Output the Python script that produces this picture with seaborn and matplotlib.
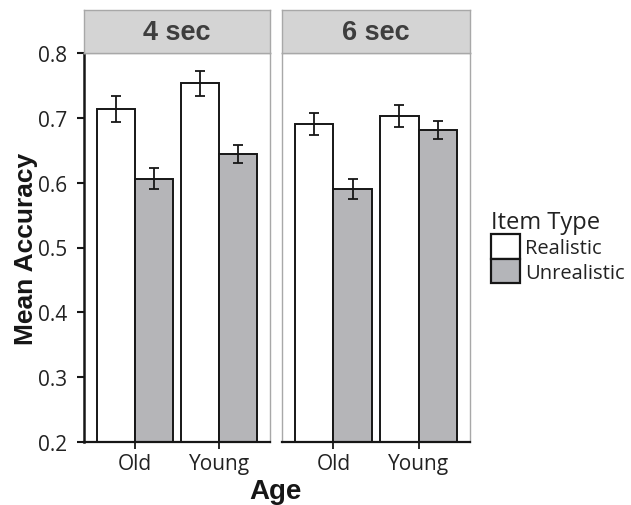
import numpy as np
import pandas as pd
import matplotlib
matplotlib.use("Agg")
import matplotlib.pyplot as plt
from matplotlib.patches import Patch
import seaborn as sns

# ─── Data ────────────────────────────────────────────────────────────────────
panels     = ["4 sec", "6 sec"]
ages       = ["Old", "Young"]
item_types = ["Realistic", "Unrealistic"]

# mean accuracy, [panel][item type][age]
means_4 = {"Realistic": [0.714, 0.753], "Unrealistic": [0.606, 0.644]}
errs_4  = {"Realistic": [0.020, 0.019], "Unrealistic": [0.016, 0.014]}
means_6 = {"Realistic": [0.690, 0.703], "Unrealistic": [0.590, 0.681]}
errs_6  = {"Realistic": [0.017, 0.017], "Unrealistic": [0.015, 0.014]}

y_ticks = [0.2, 0.3, 0.4, 0.5, 0.6, 0.7, 0.8]

# ─── Style ───────────────────────────────────────────────────────────────────
sns.set_style("white")
plt.rcParams["font.family"] = ["Open Sans", "DejaVu Sans"]
BOLD = ["Liberation Sans", "DejaVu Sans"]
palette = {"Realistic": "#ffffff", "Unrealistic": "#b4b5b9"}
GREY_EDGE = "#a8a8a8"
INK = "#161616"

fig = plt.figure(figsize=(6.31, 5.06), dpi=100)
W, H = 631, 506

def px_axes(x0, y0, x1, y1):
    return fig.add_axes([x0 / W, 1 - y1 / H, (x1 - x0) / W, (y1 - y0) / H])

panel_px = [(84, 270), (282, 470)]
data = [(means_4, errs_4), (means_6, errs_6)]

for i, (title, (x0, x1), (means, errs)) in enumerate(zip(panels, panel_px, data)):
    ax = px_axes(x0, 54, x1, 443)
    rows = [{"Age": a, "Item Type": t, "Accuracy": means[t][j]}
            for t in item_types for j, a in enumerate(ages)]
    df = pd.DataFrame(rows)
    sns.barplot(data=df, x="Age", y="Accuracy", hue="Item Type",
                order=ages, hue_order=item_types, palette=palette,
                edgecolor=INK, linewidth=1.4, width=0.91,
                errorbar=None, legend=False, ax=ax)
    for cont, t in zip(ax.containers, item_types):
        for bar, e in zip(cont, errs[t]):
            ax.errorbar(bar.get_x() + bar.get_width() / 2, bar.get_height(),
                        yerr=e, fmt="none", ecolor=INK,
                        elinewidth=1.3, capsize=3.6, capthick=1.3, zorder=5)

    ax.set_xlim(-0.605, 1.605)
    ax.set_ylim(0.2, 0.8)
    ax.set_xlabel("")
    ax.set_ylabel("")
    ax.set_yticks(y_ticks)
    ax.tick_params(axis="x", bottom=True, length=5, width=1.3, color=INK,
                   labelsize=15, labelcolor="#222222", pad=3)
    if i == 0:
        ax.set_yticklabels([f"{v:.1f}" for v in y_ticks])
        ax.tick_params(axis="y", left=True, length=5, width=1.5, color=INK,
                       labelsize=15, labelcolor="#222222", pad=7)
    else:
        ax.tick_params(axis="y", left=False, labelleft=False)

    for side in ["top", "right", "left"]:
        ax.spines[side].set_color(GREY_EDGE)
        ax.spines[side].set_linewidth(1.0)
    ax.spines["bottom"].set_color(INK)
    ax.spines["bottom"].set_linewidth(1.6)
    if i == 0:
        ax.spines["left"].set_color(INK)
        ax.spines["left"].set_linewidth(1.8)

    # facet strip
    sax = px_axes(x0, 11, x1, 54)
    sax.set_facecolor("#d4d4d4")
    sax.set_xticks([]); sax.set_yticks([])
    for sp in sax.spines.values():
        sp.set_color(GREY_EDGE)
        sp.set_linewidth(1.0)
    sax.text(0.5, 0.5, title, ha="center", va="center", fontsize=19.5,
             fontweight="bold", color="#3e3e3e", family=BOLD,
             transform=sax.transAxes)

fig.text(26 / W, 1 - 249 / H, "Mean Accuracy", rotation=90, ha="center",
         va="center", fontsize=19, fontweight="bold", family=BOLD, color=INK)
fig.text(276 / W, 1 - 499 / H, "Age", ha="center", va="baseline",
         fontsize=20, fontweight="bold", family=BOLD, color=INK)

handles = [Patch(facecolor=palette[t], edgecolor=INK, linewidth=1.6)
           for t in item_types]
leg = fig.legend(handles, item_types, title="Item Type", loc="upper left",
                 bbox_to_anchor=(487 / W, 1 - 207 / H), frameon=False,
                 fontsize=14.5, title_fontsize=17, handlelength=1.45,
                 handleheight=1.5, handletextpad=0.25, labelspacing=0.0,
                 borderaxespad=0, borderpad=0.2)
leg._legend_box.align = "left"
for txt in leg.get_texts():
    txt.set_color("#222222")
leg.get_title().set_color("#222222")

fig.savefig("out.png", dpi=100)
